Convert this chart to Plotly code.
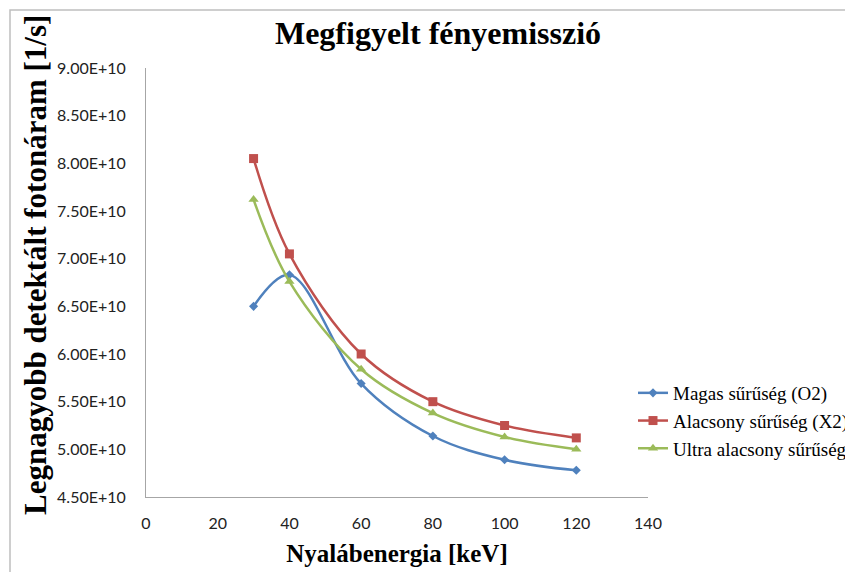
import plotly.graph_objects as go

# Data
energy_kev = [30, 40, 60, 80, 100, 120]
magas = [6.50e10, 6.83e10, 5.69e10, 5.14e10, 4.89e10, 4.78e10]
alacsony = [8.05e10, 7.05e10, 6.00e10, 5.50e10, 5.25e10, 5.12e10]
ultra = [7.62e10, 6.76e10, 5.84e10, 5.38e10, 5.13e10, 5.00e10]

series_names = ["Magas sűrűség (O2)", "Alacsony sűrűség (X2)", "Ultra alacsony sűrűség"]
y_tick_vals = [4.5e10, 5.0e10, 5.5e10, 6.0e10, 6.5e10, 7.0e10, 7.5e10, 8.0e10, 8.5e10, 9.0e10]
y_tick_text = [f"{v:.2E}" for v in y_tick_vals]
x_tick_vals = [0, 20, 40, 60, 80, 100, 120, 140]

colors = ["#4F81BD", "#C0504D", "#9BBB59"]
symbols = ["diamond", "square", "triangle-up"]
msizes = [7, 9, 9]

fig = go.Figure()
for i, (name, ys) in enumerate(zip(series_names, [magas, alacsony, ultra])):
    fig.add_trace(go.Scatter(
        x=energy_kev, y=ys, name=name, mode="lines+markers",
        line=dict(color=colors[i], width=2.5, shape="spline", smoothing=1.0),
        marker=dict(symbol=symbols[i], size=msizes[i], color=colors[i]),
        legendgroup=f"g{i}",
    ))

L, R, T, B = 146, 648, 68, 497
W, H = 845, 572

def px_x(p):
    return (p - L) / (R - L)

def px_y(p):
    return (B - p) / (B - T)

fig.update_layout(
    width=W, height=H,
    margin=dict(l=L, r=W - R, t=T, b=H - B, autoexpand=False),
    paper_bgcolor="white", plot_bgcolor="white",
    showlegend=True,
    title=dict(text="<b>Megfigyelt fényemisszió</b>", x=438 / W, xref="container",
               xanchor="center", y=1 - 33 / H, yref="container", yanchor="middle",
               font=dict(family="Liberation Serif", size=32, color="black")),
    legend=dict(x=633 / W, xref="container", xanchor="left",
                y=1 - 374 / H, yref="container", yanchor="top",
                font=dict(family="Liberation Serif", size=19, color="black"),
                tracegroupgap=0, bgcolor="rgba(0,0,0,0)"),
    xaxis=dict(range=[0, 140], tickvals=x_tick_vals, showgrid=False, zeroline=False,
               showline=True, linecolor="#A6A6A6", linewidth=1, ticks="",
               ticklabelstandoff=12, automargin=False,
               tickfont=dict(family="Lato", size=16, color="#222"),
               title=dict(text="<b>Nyalábenergia [keV]</b>", standoff=13,
                          font=dict(family="Liberation Serif", size=25, color="black"))),
    yaxis=dict(range=[4.5e10, 9.0e10], tickvals=y_tick_vals, ticktext=y_tick_text,
               showgrid=False, zeroline=False, showline=True, linecolor="#A6A6A6",
               linewidth=1, ticks="", ticklabelstandoff=16, automargin=False,
               tickfont=dict(family="Lato", size=16, color="#222")),
    annotations=[dict(text="<b>Legnagyobb detektált fotonáram [1/s]</b>",
                      textangle=-90, xref="paper", yref="paper",
                      x=px_x(35), y=px_y(265), xanchor="center", yanchor="middle",
                      showarrow=False,
                      font=dict(family="Liberation Serif", size=31, color="black"))],
    shapes=[dict(type="rect", xref="paper", yref="paper",
                 x0=px_x(10), x1=px_x(860), y0=px_y(590), y1=px_y(10),
                 line=dict(color="#BFBFBF", width=1.5), layer="below")],
)

fig.write_html("out.html")
